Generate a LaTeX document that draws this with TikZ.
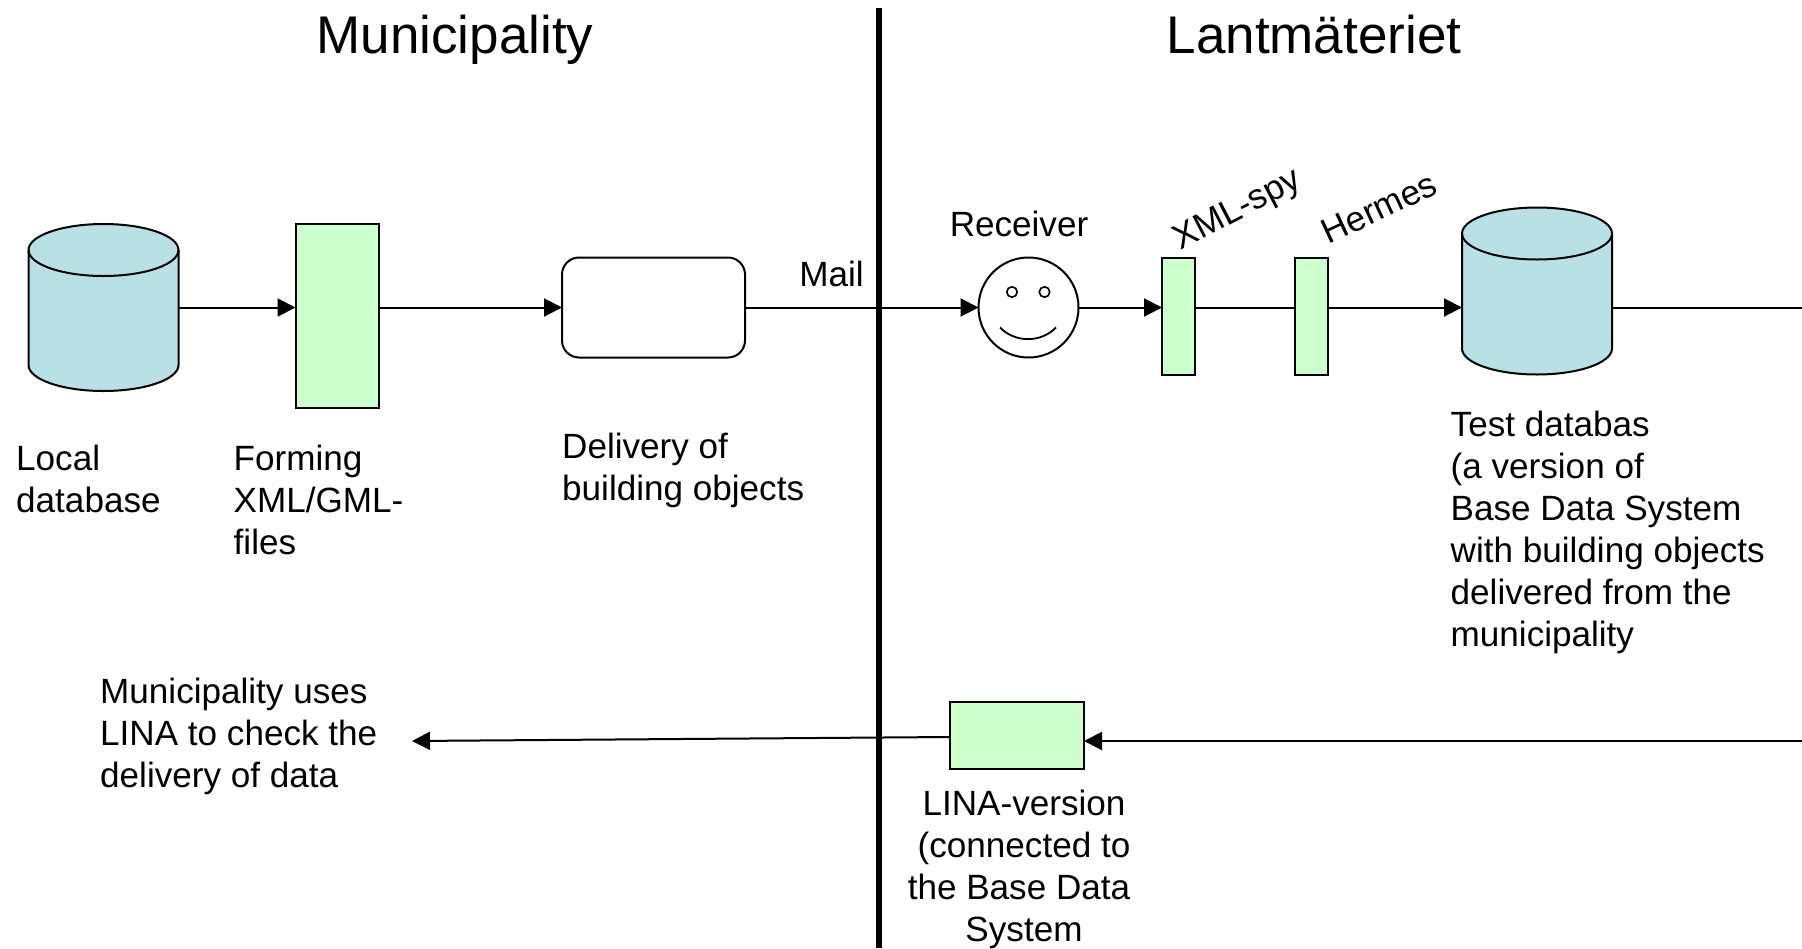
\documentclass[tikz,border=0pt]{standalone}
\usepackage{fontspec}
\setmainfont{Liberation Sans}
\usetikzlibrary{arrows.meta}
\definecolor{dbblue}{HTML}{B9E0E4}
\definecolor{toolgreen}{HTML}{CCFFCC}
\tikzset{
	flow/.style={line width=2pt, -{Triangle[length=18pt,width=18pt]}},
	plainline/.style={line width=2pt},
	toolbox/.style={rectangle, draw=black, line width=2pt, fill=toolgreen, inner sep=0pt, outer sep=0pt},
	txt/.style={font=\fontsize{35.1}{42}\selectfont, inner sep=0pt, align=left, anchor=west},
	toptitle/.style={font=\fontsize{53}{60}\selectfont, inner sep=0pt, anchor=base}
}
\def\drawdb(#1)(#2){
	\node[rectangle, minimum width=150pt, minimum height=167pt, inner sep=0pt, outer sep=0pt] (#2) at (#1) {};
	\draw[line width=2pt, fill=dbblue] ([yshift=-26pt]#2.north west) -- ([yshift=26pt]#2.south west) arc (180:360:75pt and 26pt) -- ([yshift=-26pt]#2.north east) arc (0:180:75pt and 26pt) -- cycle;
	\draw[line width=2pt] ([yshift=-26pt]#2.north west) arc (180:360:75pt and 26pt);
}

\begin{document}
\begin{tikzpicture}[x=1pt, y=-1pt]
	%%%%% START %%%%%
	\useasboundingbox (0, 0) rectangle (1802, 948);

	\node[toptitle] (titlemuni) at (455, 53) {Municipality};
	\node[toptitle] (titlelant) at (1314, 53) {Lantmäteriet};

	\coordinate (mainrow) at (0, 307.5);
	\coordinate (rightedge) at (1802, 307.5);
	\coordinate (returnedge) at (1802, 741);

	\drawdb(103.5, 307.5)(localdb)
	\node[toolbox, minimum width=83pt, minimum height=184pt] (formbox) at (337, 316) {};
	\node[rectangle, rounded corners=17pt, draw=black, line width=2pt, fill=white, minimum width=183pt, minimum height=100pt, outer sep=0pt] (delivbox) at (653.5, 307.5) {};
	\node[circle, draw=black, line width=2pt, fill=white, minimum size=100pt, inner sep=0pt, outer sep=0pt] (receiver) at (1028.5, 307.5) {};
	\node[toolbox, minimum width=33pt, minimum height=117pt] (xmlbox) at (1178.5, 316) {};
	\node[toolbox, minimum width=33pt, minimum height=117pt] (hermesbox) at (1311.5, 316) {};
	\drawdb(1537, 291)(testdb)
	\node[toolbox, minimum width=134pt, minimum height=67pt] (linabox) at (1017, 735.5) {};
	\coordinate (usesend) at (412, 741);

	% face
	\draw[line width=1.6pt] (1012, 292) circle (5.2);
	\draw[line width=1.6pt] (1044.5, 292) circle (5.2);
	\draw[line width=1.8pt] (1000, 327.5) .. controls (1015, 343) and (1041, 343) .. (1056, 327.5);

	% connectors
	\draw[flow] (localdb.east |- mainrow) -- (formbox.west |- mainrow);
	\draw[flow] (formbox.east |- mainrow) -- (delivbox.west);
	\draw[flow] (delivbox.east) -- (receiver.west);
	\draw[flow] (receiver.east) -- (xmlbox.west |- mainrow);
	\draw[plainline] (xmlbox.east |- mainrow) -- (hermesbox.west |- mainrow);
	\draw[flow] (hermesbox.east |- mainrow) -- (testdb.west |- mainrow);
	\draw[plainline] (testdb.east |- mainrow) -- (rightedge);
	\draw[flow] (returnedge) -- (linabox.east |- returnedge);
	\draw[flow] (linabox.west |- 0, 737) -- (usesend);

	% border between the two sides
	\coordinate (bordertop) at (879, 8);
	\coordinate (borderbot) at (879, 948);
	\draw[line width=6.5pt] (bordertop) -- (borderbot);

	% texts
	\node[txt] (localtxt) at (16, 478.5) {Local\\database};
	\node[txt] (formtxt) at (233.5, 500) {Forming\\XML/GML-\\files};
	\node[txt] (delivtxt) at (562, 470) {Delivery of\\building objects};
	\node[txt, anchor=center] (mailtxt) at (831.5, 274) {Mail};
	\node[txt, anchor=center] (recvtxt) at (1019, 224) {Receiver};
	\node[txt, anchor=center, rotate=27.5] (xmltxt) at (1238, 211) {XML-spy};
	\node[txt, anchor=center, rotate=25] (hermestxt) at (1379, 208) {Hermes};
	\node[txt] (testtxt) at (1450.5, 532.5) {Test databas\\(a version of\\Base Data System\\with building objects\\delivered from the\\municipality};
	\node[txt] (usestxt) at (100, 736.5) {Municipality uses\\LINA to check the\\delivery of data};
	\node[txt, anchor=center, align=center] (linatxt) at (1024, 869.5) {LINA-version\\(connected to\\the Base Data\hspace*{10pt}\hbox{}\\System};
	%%%%% END %%%%%
\end{tikzpicture}
\end{document}
